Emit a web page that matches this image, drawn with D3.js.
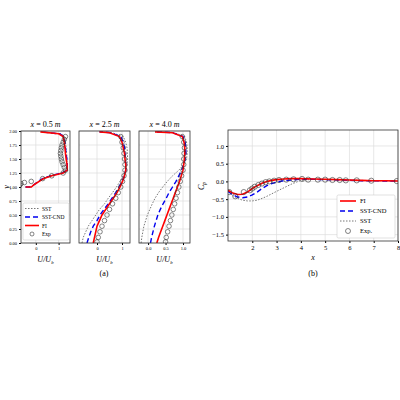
<!DOCTYPE html>
<html><head><meta charset="utf-8">
<script src="https://cdn.jsdelivr.net/npm/d3@7"></script>
<style>body{margin:0;background:#fff}text{font-family:"Liberation Serif",serif}</style>
</head><body><svg id="c" width="400" height="400"></svg>
<script>
// profile heights
var yProf = [0.0, 0.1, 0.2, 0.3, 0.4, 0.5, 0.6, 0.7, 0.8, 0.9, 1.0, 1.1, 1.2, 1.3, 1.4, 1.5, 1.6, 1.7, 1.8, 1.9, 1.97, 1.985];
// x = 0.5 m (lower part only from y=1)
var y05 = [1.0, 1.0, 1.05, 1.1, 1.15, 1.2, 1.25, 1.3, 1.4, 1.5, 1.6, 1.7, 1.8, 1.9, 1.95, 1.985];
var fi05  = [-0.45, -0.2, -0.05, 0.15, 0.35, 0.7, 1.2, 1.38, 1.37, 1.33, 1.3, 1.28, 1.25, 1.2, 1.0, 0.2];
var cnd05 = [-0.45, -0.2, -0.05, 0.1, 0.3, 0.65, 1.15, 1.37, 1.38, 1.36, 1.33, 1.3, 1.27, 1.22, 1.05, 0.2];
var sst05 = [-0.45, -0.2, -0.05, 0.1, 0.3, 0.6, 1.1, 1.36, 1.38, 1.37, 1.35, 1.33, 1.3, 1.26, 1.1, 0.2];
var expY05 = [1.0, 1.02, 1.04, 1.06, 1.08, 1.1, 1.15, 1.2, 1.25, 1.3, 1.35, 1.4, 1.45, 1.5, 1.55, 1.6, 1.65, 1.7, 1.75, 1.8, 1.85, 1.9];
var expU05 = [-0.8, -0.75, -0.7, -0.65, -0.5, -0.2, 0.3, 0.7, 1.2, 1.3, 1.25, 1.2, 1.15, 1.12, 1.1, 1.08, 1.1, 1.12, 1.15, 1.2, 1.25, 1.3];
// x = 2.5 m
var fi25  = [-0.15, -0.1, -0.05, 0.0, 0.1, 0.2, 0.35, 0.5, 0.65, 0.8, 0.92, 1.02, 1.1, 1.15, 1.15, 1.12, 1.1, 1.05, 1.0, 0.9, 0.5, 0.1];
var cnd25 = [-0.4, -0.33, -0.25, -0.15, 0.0, 0.12, 0.28, 0.45, 0.6, 0.75, 0.88, 1.0, 1.1, 1.15, 1.15, 1.13, 1.12, 1.1, 1.05, 0.95, 0.55, 0.1];
var sst25 = [-0.6, -0.55, -0.45, -0.35, -0.2, -0.05, 0.1, 0.3, 0.45, 0.62, 0.78, 0.92, 1.05, 1.15, 1.2, 1.22, 1.22, 1.2, 1.15, 1.05, 0.6, 0.1];
var expY = [0.02, 0.1, 0.2, 0.3, 0.4, 0.5, 0.6, 0.7, 0.8, 0.9, 1.0, 1.1, 1.2, 1.3, 1.4, 1.5, 1.6, 1.7, 1.8, 1.9];
var expU25 = [0.0, 0.05, 0.12, 0.2, 0.3, 0.4, 0.5, 0.62, 0.75, 0.85, 0.95, 1.02, 1.08, 1.12, 1.12, 1.1, 1.08, 1.05, 1.0, 0.95];
// x = 4.0 m
var fi40  = [0.25, 0.3, 0.36, 0.42, 0.48, 0.54, 0.6, 0.66, 0.72, 0.78, 0.84, 0.9, 0.95, 1.0, 1.02, 1.04, 1.05, 1.05, 1.03, 0.98, 0.7, 0.2];
var cnd40 = [0.07, 0.1, 0.14, 0.18, 0.23, 0.28, 0.35, 0.43, 0.52, 0.6, 0.7, 0.8, 0.88, 0.96, 1.02, 1.06, 1.08, 1.08, 1.06, 1.0, 0.7, 0.2];
var sst40 = [-0.2, -0.18, -0.15, -0.12, -0.07, -0.02, 0.05, 0.12, 0.2, 0.3, 0.42, 0.55, 0.7, 0.88, 1.02, 1.1, 1.12, 1.12, 1.1, 1.05, 0.75, 0.2];
var expU40 = [0.5, 0.52, 0.56, 0.6, 0.64, 0.68, 0.72, 0.76, 0.8, 0.84, 0.88, 0.92, 0.96, 1.0, 1.02, 1.02, 1.03, 1.04, 1.02, 0.98];
// Cp
var xCp = [1.0, 1.2, 1.4, 1.6, 1.8, 2.0, 2.2, 2.4, 2.6, 2.8, 3.0, 3.3, 3.6, 4.0, 4.5, 5.0, 5.5, 6.0, 6.5, 7.0, 7.5, 8.0];
var cpFI  = [-0.25, -0.33, -0.37, -0.36, -0.3, -0.2, -0.12, -0.05, 0.0, 0.03, 0.05, 0.07, 0.08, 0.08, 0.07, 0.06, 0.05, 0.04, 0.03, 0.02, 0.02, 0.01];
var cpCND = [-0.28, -0.38, -0.44, -0.46, -0.44, -0.38, -0.3, -0.2, -0.12, -0.06, -0.02, 0.02, 0.04, 0.06, 0.06, 0.05, 0.04, 0.03, 0.02, 0.02, 0.01, 0.01];
var cpSST = [-0.28, -0.4, -0.48, -0.53, -0.55, -0.55, -0.53, -0.48, -0.42, -0.35, -0.28, -0.18, -0.08, 0.03, 0.06, 0.06, 0.05, 0.04, 0.03, 0.02, 0.02, 0.01];
var xExp = [1.05, 1.3, 1.65, 1.9, 2.0, 2.1, 2.25, 2.4, 2.55, 2.7, 2.9, 3.1, 3.4, 3.7, 4.05, 4.3, 4.7, 5.0, 5.3, 5.6, 5.85, 6.3, 6.9, 7.95];
var cpExp = [-0.3, -0.42, -0.3, -0.25, -0.2, -0.15, -0.1, -0.06, -0.02, 0.0, 0.02, 0.04, 0.05, 0.06, 0.07, 0.05, 0.05, 0.05, 0.04, 0.04, 0.03, 0.03, 0.02, 0.01];

var svg = d3.select('#c');
var styles = {
    fi:  {stroke: '#ff0000', w: 1.6, dash: null},
    cnd: {stroke: '#0000ee', w: 1.4, dash: '5,3'},
    sst: {stroke: '#777', w: 1, dash: '1.5,1.5'}
};

function drawPanel(x0, x1, y0, y1, xs, ys, xt, xfmt, opt){
    var g = svg.append('g');
    var x = d3.scaleLinear().domain(xs).range([x0, x1]);
    var y = d3.scaleLinear().domain(ys).range([y1, y0]);
    g.append('defs').append('clipPath').attr('id', opt.id).append('rect')
        .attr('x', x0).attr('y', y0).attr('width', x1 - x0).attr('height', y1 - y0);
    var yt = opt.yt;
    g.selectAll('.gx').data(xt).enter().append('line')
        .attr('x1', x).attr('x2', x).attr('y1', y0).attr('y2', y1).attr('stroke', '#ddd').attr('stroke-width', 0.7);
    g.selectAll('.gy').data(yt).enter().append('line')
        .attr('y1', y).attr('y2', y).attr('x1', x0).attr('x2', x1).attr('stroke', '#ddd').attr('stroke-width', 0.7);
    g.append('g').attr('transform', 'translate(0,' + y1 + ')')
        .call(d3.axisBottom(x).tickValues(xt).tickFormat(xfmt).tickSize(2).tickPadding(2))
        .call(function(a){ a.select('.domain').remove(); a.selectAll('text').attr('font-size', opt.fs); });
    if (opt.showY) g.append('g').attr('transform', 'translate(' + x0 + ',0)')
        .call(d3.axisLeft(y).tickValues(yt).tickFormat(opt.yfmt).tickSize(2).tickPadding(2))
        .call(function(a){ a.select('.domain').remove(); a.selectAll('text').attr('font-size', opt.fs); });
    var pg = g.append('g').attr('clip-path', 'url(#' + opt.id + ')');
    opt.lines.forEach(function(l){
        var s = styles[l.k];
        var line = opt.horiz ? d3.line().x(function(d, i){ return x(l.v[i]); }).y(function(d){ return y(d); })
                             : d3.line().x(function(d){ return x(d); }).y(function(d, i){ return y(l.v[i]); });
        pg.append('path').datum(l.c).attr('d', line).attr('fill', 'none')
            .attr('stroke', s.stroke).attr('stroke-width', s.w).attr('stroke-dasharray', s.dash);
    });
    pg.selectAll('.e').data(opt.exp.c).enter().append('circle')
        .attr('cx', function(d, i){ return opt.horiz ? x(opt.exp.v[i]) : x(d); })
        .attr('cy', function(d, i){ return opt.horiz ? y(d) : y(opt.exp.v[i]); })
        .attr('r', opt.r).attr('fill', 'none').attr('stroke', '#333').attr('stroke-width', 0.6);
    g.append('rect').attr('x', x0).attr('y', y0).attr('width', x1 - x0).attr('height', y1 - y0)
        .attr('fill', 'none').attr('stroke', '#333').attr('stroke-width', 0.8);
    return g;
}

var yTicks = [0, 0.25, 0.5, 0.75, 1, 1.25, 1.5, 1.75, 2];
var yTop = 131, yBot = 243;
var panels = [
    {x0: 21, x1: 70, xs: [-0.65, 1.5], xt: [0, 1], xf: d3.format('d'), t: 'x = 0.5 m', showY: true,
     c: [y05, y05, y05], v: [sst05, cnd05, fi05], ey: expY05, eu: expU05},
    {x0: 79, x1: 130, xs: [-0.72, 1.32], xt: [0, 1], xf: d3.format('d'), t: 'x = 2.5 m',
     c: [yProf, yProf, yProf], v: [sst25, cnd25, fi25], ey: expY, eu: expU25},
    {x0: 139, x1: 190, xs: [-0.26, 1.2], xt: [0, 0.5, 1], xf: d3.format('.1f'), t: 'x = 4.0 m',
     c: [yProf, yProf, yProf], v: [sst40, cnd40, fi40], ey: expY, eu: expU40}
];
panels.forEach(function(p, i){
    drawPanel(p.x0, p.x1, yTop, yBot, p.xs, [0, 2], p.xt, p.xf, {
        id: 'cp' + i, yt: yTicks, yfmt: d3.format('.2f'), showY: p.showY, fs: 4.5, horiz: true, r: 2.3,
        lines: [{k: 'sst', c: p.c[0], v: p.v[0]}, {k: 'cnd', c: p.c[1], v: p.v[1]}, {k: 'fi', c: p.c[2], v: p.v[2]}],
        exp: {c: p.ey, v: p.eu}
    });
    var cx = (p.x0 + p.x1) / 2;
    var tt = svg.append('text').attr('x', cx).attr('y', 127).attr('text-anchor', 'middle').attr('font-size', 8);
    tt.append('tspan').attr('font-style', 'italic').text('x');
    tt.append('tspan').text(' = ' + p.t.split(' = ')[1].split(' ')[0] + ' ');
    tt.append('tspan').attr('font-style', 'italic').text('m');
    var xl = svg.append('text').attr('x', cx).attr('y', 262).attr('text-anchor', 'middle').attr('font-size', 8).attr('font-style', 'italic');
    xl.append('tspan').text('U/U');
    xl.append('tspan').attr('font-size', 5).attr('dy', 2).text('b');
});
svg.append('text').attr('transform', 'translate(9,187) rotate(-90)').attr('text-anchor', 'middle')
    .attr('font-size', 8).attr('font-style', 'italic').text('y');

// legend for (a)
var lg = svg.append('g');
var legA = [{k: 'sst', t: 'SST'}, {k: 'cnd', t: 'SST-CND'}, {k: 'fi', t: 'FI'}, {k: 'exp', t: 'Exp'}];
lg.append('rect').attr('x', 23).attr('y', 203).attr('width', 46).attr('height', 37).attr('fill', '#fff')
    .attr('stroke', '#ccc').attr('stroke-width', 0.6).attr('rx', 1.5);
legA.forEach(function(d, i){
    var yy = 208.5 + i * 8.5;
    if (d.k === 'exp') lg.append('circle').attr('cx', 32).attr('cy', yy).attr('r', 2).attr('fill', 'none').attr('stroke', '#333').attr('stroke-width', 0.6);
    else lg.append('line').attr('x1', 25).attr('x2', 39).attr('y1', yy).attr('y2', yy)
        .attr('stroke', styles[d.k].stroke).attr('stroke-width', styles[d.k].w).attr('stroke-dasharray', styles[d.k].dash);
    lg.append('text').attr('x', 42).attr('y', yy + 2).attr('font-size', 5.5).text(d.t);
});
svg.append('text').attr('x', 104).attr('y', 276).attr('text-anchor', 'middle').attr('font-size', 8).text('(a)');

// Cp panel
var cpg = drawPanel(228, 398, 130, 241, [1, 8], [-1.68, 1.45], [2, 3, 4, 5, 6, 7, 8], d3.format('d'), {
    id: 'cpc', yt: [-1.5, -1, -0.5, 0, 0.5, 1], yfmt: function(v){ return (v < 0 ? '\u2212' : '') + d3.format('.1f')(Math.abs(v)); },
    showY: true, fs: 6.5, horiz: false, r: 2.6,
    lines: [{k: 'sst', c: xCp, v: cpSST}, {k: 'cnd', c: xCp, v: cpCND}, {k: 'fi', c: xCp, v: cpFI}],
    exp: {c: xExp, v: cpExp}
});
var cl = svg.append('text').attr('transform', 'translate(204,186) rotate(-90)').attr('text-anchor', 'middle').attr('font-size', 8).attr('font-style', 'italic');
cl.append('tspan').text('C');
cl.append('tspan').attr('font-size', 5.5).attr('dy', 2).text('p');
svg.append('text').attr('x', 313).attr('y', 260).attr('text-anchor', 'middle').attr('font-size', 8).attr('font-style', 'italic').text('x');
svg.append('text').attr('x', 313).attr('y', 276).attr('text-anchor', 'middle').attr('font-size', 8).text('(b)');

var lb = svg.append('g');
var legB = [{k: 'fi', t: 'FI'}, {k: 'cnd', t: 'SST-CND'}, {k: 'sst', t: 'SST'}, {k: 'exp', t: 'Exp.'}];
lb.append('rect').attr('x', 337).attr('y', 195).attr('width', 58).attr('height', 43).attr('fill', '#fff')
    .attr('stroke', '#ccc').attr('stroke-width', 0.6).attr('rx', 1.5);
legB.forEach(function(d, i){
    var yy = 201 + i * 10;
    if (d.k === 'exp') lb.append('circle').attr('cx', 348).attr('cy', yy).attr('r', 2.5).attr('fill', 'none').attr('stroke', '#333').attr('stroke-width', 0.6);
    else lb.append('line').attr('x1', 340).attr('x2', 356).attr('y1', yy).attr('y2', yy)
        .attr('stroke', styles[d.k].stroke).attr('stroke-width', styles[d.k].w).attr('stroke-dasharray', styles[d.k].dash);
    lb.append('text').attr('x', 360).attr('y', yy + 2.3).attr('font-size', 6.5).text(d.t);
});
</script></body></html>
